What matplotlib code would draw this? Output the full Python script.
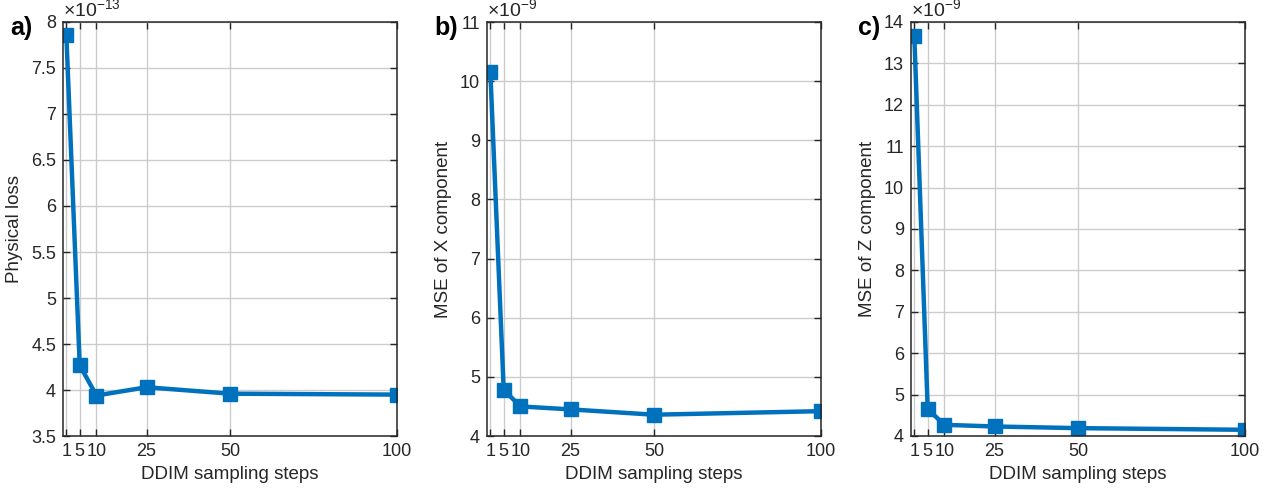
import numpy as np
import matplotlib.pyplot as plt
from matplotlib.ticker import FuncFormatter

plt.rcParams['font.family'] = ['Liberation Sans', 'DejaVu Sans']
plt.rcParams['mathtext.fontset'] = 'custom'
plt.rcParams['mathtext.rm'] = 'Liberation Sans'
plt.rcParams['mathtext.it'] = 'Liberation Sans'

# DDIM sampling steps
steps = [1, 5, 10, 25, 50, 100]

# values
physical_loss = [7.86e-13, 4.27e-13, 3.94e-13, 4.03e-13, 3.96e-13, 3.95e-13]
mse_x = [10.16e-9, 4.78e-9, 4.50e-9, 4.45e-9, 4.36e-9, 4.42e-9]
mse_z = [13.65e-9, 4.65e-9, 4.27e-9, 4.23e-9, 4.19e-9, 4.15e-9]

ylabels = ['Physical loss', 'MSE of X component', 'MSE of Z component']
panel_tags = ['a)', 'b)', 'c)']
exponents = [-13, -9, -9]
ylims = [(3.5, 8), (4, 11), (4, 14)]   # in units of 10^exponent
ysteps = [0.5, 1, 1]

blue = '#0072BD'
dark = '#262626'
fig = plt.figure(figsize=(12.78, 4.94), dpi=100)

lefts = [63 / 1278, 487 / 1278, 911 / 1278]
w = 334 / 1278
b = 1 - 436 / 494
h = (436 - 22) / 494

for i, vals in enumerate([physical_loss, mse_x, mse_z]):
    scale = 10.0 ** exponents[i]
    ax = fig.add_axes([lefts[i], b, w, h])
    ax.plot(steps, vals, '-s', color=blue, lw=3.2, ms=10, mfc=blue, mec=blue)
    ax.set_xlim(0, 100)
    lo, hi = ylims[i]
    ax.set_ylim(lo * scale, hi * scale)
    ax.set_xticks(steps)
    ax.set_yticks(np.arange(lo, hi + ysteps[i] / 2, ysteps[i]) * scale)
    ax.yaxis.set_major_formatter(FuncFormatter(lambda v, p, s=scale: f'{v / s:.10g}'))
    ax.text(0, 1.004, r'$\times10^{%d}$' % exponents[i], transform=ax.transAxes,
            fontsize=14, color=dark, ha='left', va='bottom')
    ax.grid(True, color='#cccccc', lw=1.0)
    ax.set_axisbelow(True)
    ax.tick_params(direction='in', top=True, right=True, labelsize=13,
                   colors=dark, length=5, width=1, pad=5)
    for s in ax.spines.values():
        s.set_color(dark)
        s.set_linewidth(1.1)
    ax.set_xlabel('DDIM sampling steps', fontsize=13.5, color=dark, labelpad=4)
    ax.set_ylabel(ylabels[i], fontsize=13.5, color=dark, labelpad=6)
    fig.text(lefts[i] - 53 / 1278, 1 - 35 / 494, panel_tags[i],
             fontsize=18, fontweight='bold', ha='left', va='baseline')

fig.savefig('out.png', dpi=100)
